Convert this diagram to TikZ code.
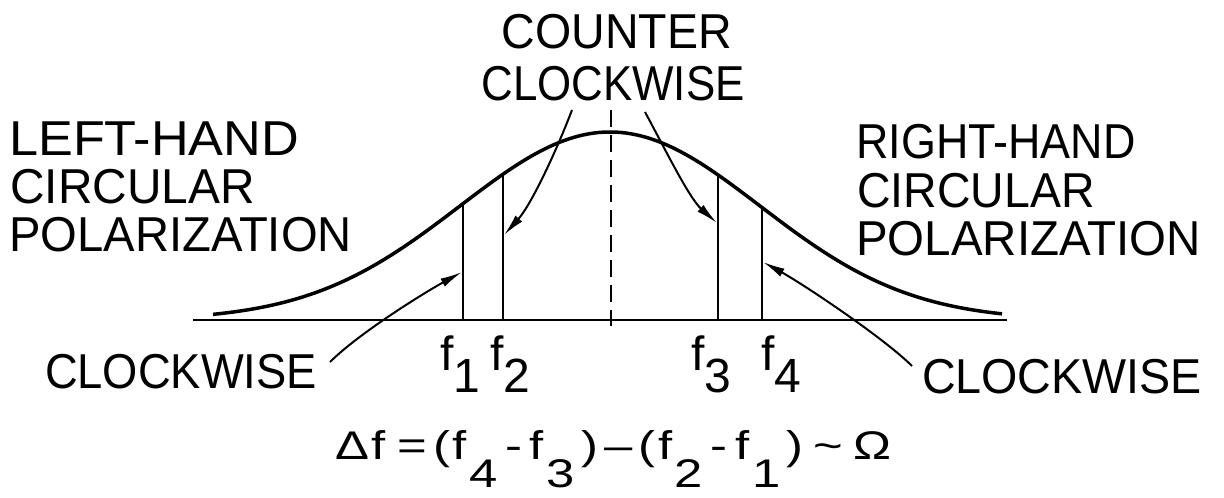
\documentclass[tikz,border=0pt]{standalone}
\usepackage{fontspec}
\setmainfont{Liberation Sans}
\usetikzlibrary{arrows.meta}
\newcommand\eqsub[1]{\raisebox{-28pt}{#1}}
\newcommand\flsub[1]{\raisebox{-22pt}{#1}}
\begin{document}
\begin{tikzpicture}[x=1pt,y=-1pt,
  declare function={g(\x)=320-188*exp(-0.5*((\x-610)/150)^2);},
  lbl/.style={inner sep=0pt, anchor=base west, font=\fontsize{49}{49}\selectfont},
  lblc/.style={inner sep=0pt, anchor=base, font=\fontsize{49}{49}\selectfont},
  flbl/.style={inner sep=0pt, anchor=base west, font=\fontsize{48}{48}\selectfont},
  eqn/.style={inner sep=0pt, anchor=base west, font=\fontsize{40}{40}\selectfont},
  curve/.style={line width=3.5pt, line join=round},
  axis/.style={line width=2.5pt},
  vline/.style={line width=2pt},
  dline/.style={line width=2pt, dash pattern=on 17pt off 8pt},
  arr/.style={line width=2pt, -{Latex[length=22pt,width=9pt]}}]
\useasboundingbox (0,0) rectangle (1224,498);
% labels
\node[lbl] (lh1) at (9,155) {\scalebox{1.065}[1]{LEFT-HAND}};
\node[lbl] (lh2) at (10,203) {\scalebox{0.976}[1]{CIRCULAR}};
\node[lbl] (lh3) at (9,251) {\scalebox{0.963}[1]{POLARIZATION}};
\node[lbl] (rh1) at (856,158) {\scalebox{0.916}[1]{RIGHT-HAND}};
\node[lbl] (rh2) at (857,207) {\scalebox{0.948}[1]{CIRCULAR}};
\node[lbl] (rh3) at (856,255) {\scalebox{0.969}[1]{POLARIZATION}};
\node[lblc] (cc1) at (617,48) {\scalebox{0.95}[1]{COUNTER}};
\node[lblc] (cc2) at (613,100) {\scalebox{0.895}[1]{CLOCKWISE}};
\node[lblc] (cwl) at (181,388) {\scalebox{0.925}[1]{CLOCKWISE}};
\node[lblc] (cwr) at (1062,393) {\scalebox{0.952}[1]{CLOCKWISE}};
% frequency labels
\node[flbl] (f1) at (440,370) {f\flsub{1}};
\node[flbl] (f2) at (490,370) {f\flsub{2}};
\node[flbl] (f3) at (691,370) {f\flsub{3}};
\node[flbl] (f4) at (761,370) {f\flsub{4}};
% equation
\node[eqn] (eq) at (335,459) {\scalebox{1.27}[1]{Δ\hspace{2pt}f\hspace{9pt}=\hspace{5pt}(\hspace{2pt}f\hspace{2pt}\eqsub{4}\hspace{6pt}-\hspace{6pt}f\hspace{2pt}\eqsub{3}\hspace{5pt})\hspace{5pt}–\hspace{5pt}(\hspace{2pt}f\hspace{2pt}\eqsub{2}\hspace{6pt}-\hspace{6pt}f\hspace{2pt}\eqsub{1}\hspace{5pt})\hspace{8pt}\textasciitilde\hspace{8pt}Ω}};
% axis
\coordinate (L0) at (193,320);
\coordinate (R0) at (1007,320);
\draw[axis] (L0) -- (R0);
% curve
\draw[curve] plot[domain=213:1002,samples=150] (\x,{g(\x)});
% center dashed line
\coordinate (dtop) at (611,110);
\coordinate (dbot) at (611,326);
\draw[dline] (dtop) -- (dbot);
% vertical lines
\foreach \n/\xx in {1/463,2/503,3/718,4/762}{
  \coordinate (b\n) at (\xx,320);
  \coordinate (t\n) at (\xx,{g(\xx)});
  \draw[vline] (b\n) -- (t\n);
}
% arrows
\coordinate (s1) at (330,362);
\coordinate (p1) at (462,272);
\coordinate (s2) at (572,110);
\coordinate (p2) at (504,235);
\coordinate (s3) at (645,112);
\coordinate (p3) at (717,223);
\coordinate (s4) at (912,366);
\coordinate (p4) at (763,262);
\draw[arr] (s1) .. controls (358,334) and (422,294) .. (p1);
\draw[arr] (s2) .. controls (556,152) and (531,205) .. (p2);
\draw[arr] (s3) .. controls (664,147) and (689,198) .. (p3);
\draw[arr] (s4) .. controls (884,338) and (803,284) .. (p4);
\end{tikzpicture}
\end{document}
